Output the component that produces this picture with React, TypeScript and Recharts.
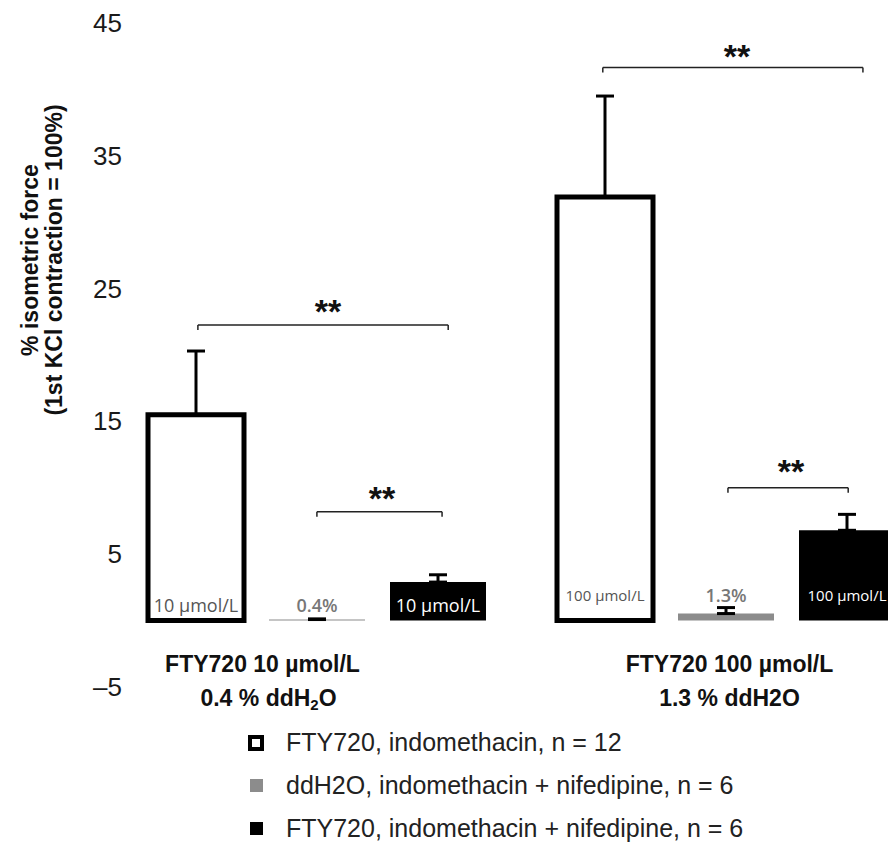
import React from 'react';
import {
  BarChart,
  Bar,
  XAxis,
  YAxis,
  ErrorBar,
  LabelList,
  ReferenceLine,
  ReferenceDot,
  Legend,
} from 'recharts';

// ---------- data ----------
const categories = ['FTY720 10 µmol/L', 'FTY720 100 µmol/L'];
const categorySubLabels = ['0.4 % ddH₂O', '1.3 % ddH2O'];
const categoryPositions = [0.5, 1.5];

const seriesNames = [
  'FTY720, indomethacin, n = 12',
  'ddH2O, indomethacin + nifedipine, n = 6',
  'FTY720, indomethacin + nifedipine, n = 6',
];

const fty720Indo = [15.5, 31.9];
const fty720IndoErr = [4.8, 7.6];
const ddH2ONif = [0.08, 0.53];
const ddH2ONifErr = [0.05, 0.45];
const fty720Nif = [2.9, 6.8];
const fty720NifErr = [0.55, 1.2];

const fty720IndoLabels = ['10 µmol/L', '100 µmol/L'];
const ddH2OLabels = ['0.4%', '1.3%'];
const fty720NifLabels = ['10 µmol/L', '100 µmol/L'];

const yTicks = [-5, 5, 15, 25, 35, 45];

// significance brackets (x in category units on a 0..2 scale, y in % units)
const bracketX1 = [0.21, 0.501, 1.2, 1.506];
const bracketX2 = [0.822, 0.807, 1.836, 1.8];
const bracketY = [22.26, 8.2, 41.65, 10.0];
const starX = [0.528, 0.66, 1.528, 1.66];
const starY = [23.5, 9.4, 42.7, 11.4];
const starText = ['**', '**', '**', '**'];

// ---------- table ----------
const data = categories.map((c, i) => ({
  category: c,
  pos: categoryPositions[i],
  sub: categorySubLabels[i],
  s1: fty720Indo[i],
  e1: [0, fty720IndoErr[i]],
  l1: fty720IndoLabels[i],
  s2: ddH2ONif[i],
  e2: [0, ddH2ONifErr[i]],
  l2: ddH2OLabels[i],
  s3: fty720Nif[i],
  e3: [0, fty720NifErr[i]],
  l3: fty720NifLabels[i],
}));

// ---------- styles ----------
const FONT = '"Liberation Sans", Arial, sans-serif';
const BAR_FONT = '"Open Sans", "Noto Sans", sans-serif';
const categoryLabelShift = [-54, 4];
const innerLabelLift = [16, 26];

const YTick = (props: any) => {
  const { x, y, payload } = props;
  const v = payload.value;
  const txt = v < 0 ? `–${Math.abs(v)}` : `${v}`;
  return (
    <text
      x={x + 10}
      y={y}
      textAnchor="end"
      dominantBaseline="central"
      fontSize={26}
      fill="#1a1a1a"
      fontFamily={FONT}
    >
      {txt}
    </text>
  );
};

const CategoryTick = (props: any) => {
  const { x, y, payload, index } = props;
  const shift = categoryLabelShift[index] ?? 0;
  const sub: string = data[index]?.sub ?? '';
  const parts = sub.split('₂');
  return (
    <g>
      <text
        x={x + shift}
        y={y - 23}
        textAnchor="middle"
        dominantBaseline="central"
        fontSize={23}
        fontWeight="bold"
        fill="#111"
        fontFamily={FONT}
      >
        {payload.value}
      </text>
      <text
        x={x + shift + (index === 0 ? 6 : 0)}
        y={y + 11}
        textAnchor="middle"
        dominantBaseline="central"
        fontSize={23}
        fontWeight="bold"
        fill="#111"
        fontFamily={FONT}
      >
        {parts.length > 1 ? (
          <>
            {parts[0]}
            <tspan fontSize={15} dy={6}>2</tspan>
            <tspan dy={-6}>{parts[1]}</tspan>
          </>
        ) : (
          sub
        )}
      </text>
    </g>
  );
};

const makeInnerLabel =
  (color: string, sizes: number[], weight: number) => (props: any) => {
    const { x, y, width, height, index, value } = props;
    const base = Number(y) + Number(height);
    return (
      <text
        x={Number(x) + Number(width) / 2}
        y={base - innerLabelLift[index]}
        textAnchor="middle"
        dominantBaseline="central"
        fontSize={sizes[index]}
        fontWeight={weight}
        fill={color}
        fontFamily={BAR_FONT}
      >
        {value}
      </text>
    );
  };

const legendMarkers: React.CSSProperties[] = [
  { width: 8, height: 8, border: '4px solid #000', background: '#fff' },
  { width: 13, height: 13, background: '#8c8c8c' },
  { width: 13, height: 13, background: '#000' },
];

const renderLegend = (props: any) => {
  const payload: any[] = [...(props.payload || [])];
  payload.sort(
    (a, b) => seriesNames.indexOf(a.value) - seriesNames.indexOf(b.value)
  );
  return (
    <div style={{ fontFamily: FONT }}>
      {payload.map((entry: any) => {
        const i = seriesNames.indexOf(entry.value);
        return (
          <div
            key={entry.value}
            style={{ display: 'flex', alignItems: 'center', height: 43 }}
          >
            <div style={{ width: 16, display: 'flex', justifyContent: 'center' }}>
              <span style={{ display: 'inline-block', ...legendMarkers[i] }} />
            </div>
            <span style={{ marginLeft: 22, fontSize: 25, color: '#222' }}>
              {entry.value}
            </span>
          </div>
        );
      })}
    </div>
  );
};

const YLabel = () => (
  <g fontFamily={FONT} fontWeight="bold" fontSize={23} fill="#111">
    <text
      transform="translate(30,260) rotate(-90)"
      textAnchor="middle"
      dominantBaseline="central"
    >
      % isometric force
    </text>
    <text
      transform="translate(54,260) rotate(-90)"
      textAnchor="middle"
      dominantBaseline="central"
    >
      (1st KCl contraction = 100%)
    </text>
  </g>
);

const StarShape = (label: string) => (p: any) => (
  <text
    x={p.cx}
    y={p.cy + 14}
    textAnchor="middle"
    fontSize={34}
    fontWeight="bold"
    fill="#111"
    fontFamily={FONT}
  >
    {label}
  </text>
);

const TICK = 0.38;

export default function App() {
  return (
    <div
      style={{
        position: 'absolute',
        left: 0,
        top: 0,
        width: 888,
        height: 851,
        overflow: 'hidden',
        background: '#fff',
      }}
    >
      <BarChart
        width={930}
        height={851}
        data={data}
        margin={{ top: 23, right: 0, bottom: 0, left: 0 }}
        barSize={96}
        barGap={25}
        style={{ fontFamily: FONT }}
      >
        <XAxis
          dataKey="category"
          axisLine={false}
          tickLine={false}
          tickSize={0}
          tickMargin={0}
          height={164}
          interval={0}
          tick={<CategoryTick />}
        />
        <XAxis
          xAxisId="num"
          dataKey="pos"
          type="number"
          domain={[0, 2]}
          allowDataOverflow
          axisLine={false}
          tickLine={false}
          tick={false}
          height={0}
        />
        <YAxis
          width={112}
          domain={[-5, 45]}
          ticks={yTicks}
          interval={0}
          axisLine={false}
          tickLine={false}
          tickSize={0}
          tickMargin={0}
          allowDataOverflow
          tick={<YTick />}
          label={{ content: () => <YLabel /> }}
        />
        <Legend
          layout="vertical"
          align="center"
          verticalAlign="middle"
          content={renderLegend}
          wrapperStyle={{ left: 248, top: 721, width: 620, height: 130 }}
        />
        <Bar
          dataKey="s1"
          name={seriesNames[0]}
          fill="#fff"
          stroke="#000"
          strokeWidth={5}
          isAnimationActive={false}
        >
          <ErrorBar dataKey="e1" width={9} strokeWidth={3} stroke="#000" direction="y" />
          <LabelList dataKey="l1" content={makeInnerLabel('#555', [18, 15], 400)} />
        </Bar>
        <Bar dataKey="s2" name={seriesNames[1]} fill="#8c8c8c" isAnimationActive={false}>
          <ErrorBar dataKey="e2" width={9} strokeWidth={3} stroke="#000" direction="y" />
          <LabelList dataKey="l2" content={makeInnerLabel('#777', [18, 18], 600)} />
        </Bar>
        <Bar dataKey="s3" name={seriesNames[2]} fill="#000" isAnimationActive={false}>
          <ErrorBar dataKey="e3" width={9} strokeWidth={3} stroke="#000" direction="y" />
          <LabelList dataKey="l3" content={makeInnerLabel('#fff', [18, 15], 400)} />
        </Bar>
        {bracketY.map((y, i) => (
          <ReferenceLine
            key={`h${i}`}
            xAxisId="num"
            segment={[
              { x: bracketX1[i], y },
              { x: bracketX2[i], y },
            ]}
            stroke="#222"
            strokeWidth={1.5}
          />
        ))}
        {bracketY.map((y, i) => (
          <ReferenceLine
            key={`l${i}`}
            xAxisId="num"
            segment={[
              { x: bracketX1[i], y },
              { x: bracketX1[i], y: y - TICK },
            ]}
            stroke="#222"
            strokeWidth={1.5}
          />
        ))}
        {bracketY.map((y, i) => (
          <ReferenceLine
            key={`r${i}`}
            xAxisId="num"
            segment={[
              { x: bracketX2[i], y },
              { x: bracketX2[i], y: y - TICK },
            ]}
            stroke="#222"
            strokeWidth={1.5}
          />
        ))}
        {starX.map((x, i) => (
          <ReferenceDot
            key={`s${i}`}
            xAxisId="num"
            x={x}
            y={starY[i]}
            r={0}
            shape={StarShape(starText[i])}
          />
        ))}
      </BarChart>
    </div>
  );
}
